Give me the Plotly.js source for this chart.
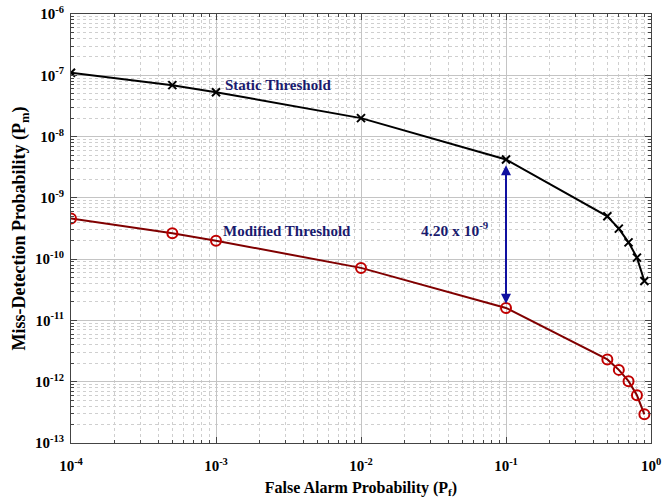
<!DOCTYPE html>
<html>
<head>
<meta charset="utf-8">
<script src="https://cdn.plot.ly/plotly-3.0.1.min.js"></script>
<style>
  html, body { margin: 0; padding: 0; background: #fff; }
  #chart { width: 662px; height: 499px; }
</style>
</head>
<body>
<div id="chart"></div>
<script>
// False alarm probabilities (P_f) shared by both curves
const falseAlarm = [1e-4, 5e-4, 1e-3, 1e-2, 1e-1, 0.5, 0.6, 0.7, 0.8, 0.9];

// Miss-detection probability with the static threshold
const staticMiss = [1.1e-7, 6.9e-8, 5.3e-8, 2.0e-8, 4.22e-9, 5.0e-10, 3.15e-10, 1.88e-10, 1.06e-10, 4.4e-11];

// Miss-detection probability with the modified threshold
const modifiedMiss = [4.6e-10, 2.64e-10, 2.0e-10, 7.2e-11, 1.6e-11, 2.31e-12, 1.56e-12, 1.02e-12, 6.0e-13, 2.94e-13];

// Decade tick labels
const xTickVals = [1e-4, 1e-3, 1e-2, 1e-1, 1];
const xTickText = ['10<sup>-4</sup>', '10<sup>-3</sup>', '10<sup>-2</sup>', '10<sup>-1</sup>', '10<sup>0</sup>'];
const yTickVals = [1e-13, 1e-12, 1e-11, 1e-10, 1e-9, 1e-8, 1e-7, 1e-6];
const yTickText = ['10<sup>-13</sup>', '10<sup>-12</sup>', '10<sup>-11</sup>', '10<sup>-10</sup>',
                   '10<sup>-9</sup>', '10<sup>-8</sup>', '10<sup>-7</sup>', '10<sup>-6</sup>'];

// Gap between the two curves at P_f = 0.1
const gapIndex = 4;
const gapValue = staticMiss[gapIndex] - modifiedMiss[gapIndex];
const gapMantissa = (gapValue / 1e-9).toFixed(2);

const serif = 'Liberation Serif, Times New Roman, serif';
const navy = '#1a1a6e';

const traces = [
  {
    x: falseAlarm, y: staticMiss, type: 'scatter', mode: 'lines+markers',
    name: 'Static Threshold',
    line: { color: '#000000', width: 2 },
    marker: { symbol: 'x-thin-open', size: 8, color: '#000000', line: { color: '#000000', width: 2 } }
  },
  {
    x: falseAlarm, y: modifiedMiss, type: 'scatter', mode: 'lines+markers',
    name: 'Modified Threshold',
    line: { color: '#800000', width: 2 },
    marker: { symbol: 'circle-open', size: 10, color: '#c00000', line: { color: '#c00000', width: 2 } }
  }
];

const gridMajor = '#c4c4c4';
const gridMinor = '#cfcfcf';

const axisCommon = {
  type: 'log',
  showline: true, linecolor: '#444', linewidth: 1, mirror: 'ticks',
  ticks: 'inside', ticklen: 6, tickcolor: '#444',
  showgrid: true, gridcolor: gridMajor, gridwidth: 1,
  zeroline: false,
  tickfont: { family: serif, size: 15, color: '#000', weight: 'bold' },
  tickmode: 'array',
  minor: { dtick: 'D1', showgrid: true, gridcolor: gridMinor, griddash: 'dot', gridwidth: 1,
           ticks: 'inside', ticklen: 3, tickcolor: '#444' }
};

const layout = {
  width: 662, height: 499,
  margin: { l: 71, r: 11, t: 14, b: 56 },
  paper_bgcolor: '#ffffff', plot_bgcolor: '#ffffff',
  showlegend: false,
  xaxis: Object.assign({}, axisCommon, {
    range: [-4, 0],
    tickvals: xTickVals, ticktext: xTickText,
    ticklabelstandoff: 9,
    title: { text: 'False Alarm Probability (P<sub>f</sub>)', standoff: 8,
             font: { family: serif, size: 16, color: '#000', weight: 'bold' } }
  }),
  yaxis: Object.assign({}, axisCommon, {
    range: [-13, -6],
    tickvals: yTickVals, ticktext: yTickText,
    ticklabelstandoff: 3,
    title: { text: 'Miss-Detection Probability (P<sub>m</sub>)', standoff: 4,
             font: { family: serif, size: 18, color: '#000', weight: 'bold' } }
  }),
  annotations: [
    {
      x: Math.log10(falseAlarm[gapIndex]), y: Math.log10(modifiedMiss[gapIndex]) + 0.07,
      ax: Math.log10(falseAlarm[gapIndex]), ay: Math.log10(staticMiss[gapIndex]) - 0.07,
      xref: 'x', yref: 'y', axref: 'x', ayref: 'y',
      text: '', showarrow: true, arrowhead: 2, startarrowhead: 2, arrowside: 'end+start',
      arrowsize: 1, arrowwidth: 2, arrowcolor: '#1010a0'
    },
    {
      x: -1.6, y: -9.51, xref: 'x', yref: 'y', xanchor: 'left', yanchor: 'middle',
      text: '<b>' + gapMantissa + ' x 10<sup>-9</sup></b>', showarrow: false,
      font: { family: serif, size: 15.5, color: navy }
    },
    {
      x: -2.95, y: -7.16, xref: 'x', yref: 'y', xanchor: 'left', yanchor: 'middle',
      text: '<b>Static Threshold</b>', showarrow: false,
      font: { family: serif, size: 15, color: navy }
    },
    {
      x: -2.965, y: -9.546, xref: 'x', yref: 'y', xanchor: 'left', yanchor: 'middle',
      text: '<b>Modified Threshold</b>', showarrow: false,
      font: { family: serif, size: 15, color: navy }
    }
  ]
};

Plotly.newPlot('chart', traces, layout, { displayModeBar: false, staticPlot: true });
</script>
</body>
</html>
